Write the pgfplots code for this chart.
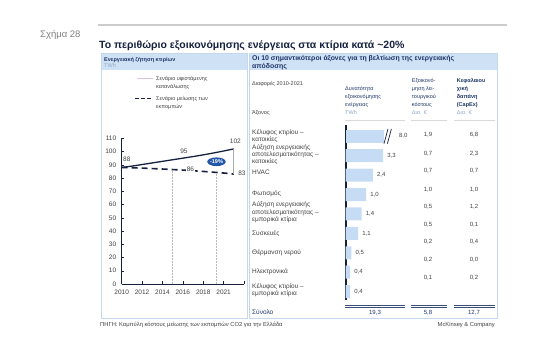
\documentclass[border=0pt]{standalone}
\usepackage{pgfplots}
\pgfplotsset{compat=1.18}
\usepackage{pgfplotstable}
\usepackage{fontspec}
\setmainfont{Liberation Sans}
\usetikzlibrary{shapes.geometric}

\definecolor{navy}{HTML}{1C3567}
\definecolor{ink}{HTML}{16213F}
\definecolor{txt}{HTML}{404040}
\definecolor{hdr}{HTML}{CFE1F5}
\definecolor{brd}{HTML}{C5D7EC}
\definecolor{barc}{HTML}{C6DCF4}
\definecolor{lav}{HTML}{D9C3DC}
\definecolor{pill}{HTML}{2356A8}
\definecolor{unit}{HTML}{8FA6C8}
\definecolor{dbl}{HTML}{3C4F78}

\pgfplotstableread{
year base
2010 88
2011 89
2012 90.2
2013 91.4
2014 92.6
2015 93.8
2016 95
2017 96.2
2018 97.5
2019 98.9
2020 100.4
2021 102
}\baseline

\pgfplotstableread{
year red
2010 88
2012 87.5
2014 86.8
2016 86
2018 85
2020 83.8
2021 83
}\reduction

\pgfplotstableread{
idx val lab
1 8.0 8,0
}\bigbar

\pgfplotstableread{
idx val lab
2 3.3 3,3
3 2.4 2,4
4 1.8 1,0
5 1.4 1,4
6 1.1 1,1
7 0.5 0,5
8 0.4 0,4
9 0.4 0,4
}\bars

\newcommand\sm{\fontsize{5.5}{7}\selectfont}
\newcommand\rl{\fontsize{6.5}{7.3}\selectfont}
\newcommand\vl{\fontsize{6}{7}\selectfont}

\begin{document}
\begin{tikzpicture}[x=1pt,y=1pt]
\path[use as bounding box] (0,0) rectangle (542,353);

% top
\node[anchor=west, text=gray, font=\fontsize{9.5}{11}\selectfont, inner sep=0] at (40,318) {Σχήμα 28};
\draw[gray!40, line width=1.5pt] (98,328) -- (507,328);
\node[anchor=west, text=ink, font=\fontsize{10.5}{12}\selectfont\bfseries, inner sep=0] at (99,307)
  {Το περιθώριο εξοικονόμησης ενέργειας στα κτίρια κατά \textasciitilde20\%};

% panels
\fill[hdr] (101,283) rectangle (247,300);
\fill[hdr] (249,283) rectangle (497,300);
\draw[brd, line width=0.6pt] (101,35) rectangle (247,300);
\draw[brd, line width=0.6pt] (249,35) rectangle (497,300);

\node[anchor=west, align=left, inner sep=0, text=navy, font=\fontsize{5.5}{6.5}\selectfont\bfseries] at (104,290.7)
  {Ενεργειακή ζήτηση κτιρίων\\{\color{unit}\mdseries TWh}};
\node[anchor=west, align=left, inner sep=0, text=navy, font=\fontsize{6.9}{7.7}\selectfont\bfseries] at (252,290.2)
  {Οι 10 σημαντικότεροι άξονες για τη βελτίωση της ενεργειακής\\απόδοσης};

% legend
\draw[lav, line width=1pt] (137,274) -- (153,274);
\draw[ink, line width=1pt, dash pattern=on 3.5pt off 2.5pt] (135,254.7) -- (153,254.7);
\node[anchor=west, align=left, inner sep=0, text=txt, font=\fontsize{5.5}{8}\selectfont] at (156,270)
  {Σενάριο υφιστάμενης\\κατανάλωσης};
\node[anchor=west, align=left, inner sep=0, text=txt, font=\fontsize{5.5}{8}\selectfont] at (156,250.5)
  {Σενάριο μείωσης των\\εκπομπών};

% left line chart
\begin{axis}[at={(121.7pt,69pt)}, anchor=south west, scale only axis,
  width=122.3pt, height=145.7pt,
  xmin=2010, xmax=2022, ymin=0, ymax=110,
  axis x line*=bottom, axis y line*=left,
  axis line style={ink, line width=0.6pt},
  xtick={2010,2012,2014,2016,2018,2020,2022},
  xticklabels={2010,2012,2014,2016,2018,2021,{}},
  ytick={0,10,...,110},
  tick align=inside, major tick length=2.5pt,
  tick style={ink, line width=0.5pt},
  ticklabel style={font=\fontsize{6.5}{7}\selectfont, text=txt},
  xticklabel style={yshift=-2pt},
  yticklabel style={xshift=-2pt},
  /pgf/number format/assume math mode=true,
  /pgf/number format/1000 sep={},
  clip=false]
\draw[gray!55, densely dotted, line width=0.5pt] (axis cs:2015,0) -- (axis cs:2015,86.5);
\draw[gray!55, densely dotted, line width=0.5pt] (axis cs:2019.25,0) -- (axis cs:2019.25,84.3);
\addplot[ink, line width=1.3pt] table[x=year,y=base]{\baseline};
\addplot[ink, line width=1.6pt, dash pattern=on 6pt off 4pt] table[x=year,y=red]{\reduction};
\draw[gray!50!brd, line width=0.9pt] (axis cs:2021,102) -- (axis cs:2021,83);
\node[font=\fontsize{6.5}{7}\selectfont, text=txt] at (axis cs:2010.5,94) {88};
\node[font=\fontsize{6.5}{7}\selectfont, text=txt] at (axis cs:2016.1,100) {95};
\node[font=\fontsize{6.5}{7}\selectfont, text=txt] at (axis cs:2021.15,107.4) {102};
\node[font=\fontsize{6.5}{7}\selectfont, text=txt, fill=white, inner sep=0.6pt] at (axis cs:2016.75,86.6) {86};
\node[font=\fontsize{6.5}{7}\selectfont, text=txt] at (axis cs:2021.8,83.4) {83};
\node[ellipse, fill=pill, text=white, inner sep=0pt, minimum width=18.5pt, minimum height=8.7pt,
  font=\fontsize{5.5}{6}\selectfont\bfseries] at (axis cs:2019.3,92.3) {-19\%};
\end{axis}

% right table headers
\node[anchor=west, inner sep=0, text=txt, font=\sm] at (252,268.7) {Διαφορές 2010-2021};
\node[anchor=west, inner sep=0, text=txt, font=\sm] at (252,239.7) {Άξονος};
\node[anchor=west, align=left, inner sep=0, text=navy, font=\fontsize{5.5}{8}\selectfont] at (345,252.7)
  {Δυνατότητα\\εξοικονόμησης\\ενέργειας\\{\color{unit}TWh}};
\node[anchor=west, align=left, inner sep=0, text=navy, font=\fontsize{5.5}{8}\selectfont] at (411.7,256.8)
  {Εξοικονό-\\μηση λει-\\τουργικού\\κόστους\\{\color{unit}Δισ. €}};
\node[anchor=west, align=left, inner sep=0, text=navy, font=\fontsize{5.5}{8}\selectfont\bfseries] at (456.7,256.8)
  {Κεφαλαιου\\χική\\δαπάνη\\(CapEx)\\{\color{unit}\mdseries Δισ. €}};
\draw[gray!30, line width=1.2pt] (345,232.5) -- (405,232.5);
\draw[gray!30, line width=1.2pt] (411,232.5) -- (447,232.5);
\draw[gray!30, line width=1.2pt] (454,232.5) -- (495,232.5);

% row labels
\begin{scope}[every node/.style={anchor=west, align=left, inner sep=0, text=txt, font=\rl}]
\node at (252,216.7) {Κέλυφος κτιρίου –\\κατοικίες};
\node at (252,198.5) {Αύξηση ενεργειακής\\αποτελεσματικότητας –\\κατοικίες};
\node at (252,180.3) {HVAC};
\node at (252,159.7) {Φωτισμός};
\node at (252,140.5) {Αύξηση ενεργειακής\\αποτελεσματικότητας –\\εμπορικά κτίρια};
\node at (252,119.7) {Συσκευές};
\node at (252,100.7) {Θέρμανση νερού};
\node at (252,81.3) {Ηλεκτρονικά};
\node at (252,63) {Κέλυφος κτιρίου –\\εμπορικά κτίρια};
\end{scope}

% bar chart
\begin{axis}[at={(345.7pt,53pt)}, anchor=south west, scale only axis,
  width=38.6pt, height=175pt,
  xmin=0, xmax=3.4, ymin=0.42, ymax=9.43, y dir=reverse,
  axis x line=none, axis y line*=left,
  axis line style={ink, line width=1.6pt},
  ytick=\empty, xtick=\empty,
  xbar, bar width=13pt, bar shift=0pt, clip=false,
  nodes near coords, point meta=explicit symbolic,
  every node near coord/.append style={font=\vl, text=txt, anchor=west, inner sep=1pt, xshift=3pt}]
\addplot[fill=barc, draw=none, restrict x to domain*=0:3.4,
  every node near coord/.append style={xshift=10.5pt}] table[x=val,y=idx,meta=lab]{\bigbar};
\addplot[fill=barc, draw=none] table[x=val,y=idx,meta=lab]{\bars};
\fill[white] ([xshift=-0.3pt,yshift=-7.4pt]axis cs:3.4,1) -- ++(4pt,14.8pt) -- ++(3.4pt,0) -- ++(-4pt,-14.8pt) -- cycle;
\draw[ink, line width=0.7pt] ([xshift=-0.3pt,yshift=-7.4pt]axis cs:3.4,1) -- ++(4pt,14.8pt);
\draw[ink, line width=0.7pt] ([xshift=3.1pt,yshift=-7.4pt]axis cs:3.4,1) -- ++(4pt,14.8pt);
\end{axis}

% value columns
\begin{scope}[every node/.style={inner sep=0, text=txt, font=\vl}]
\foreach \y/\a/\b in {218/{1,9}/{6,8}, 199.7/{0,7}/{2,3}, 182/{0,7}/{0,7}, 163.7/{1,0}/{1,0}, 146.3/{0,5}/{1,2}, 128.7/{0,5}/{0,1}, 111.3/{0,2}/{0,4}, 93.7/{0,2}/{0,0}, 75.7/{0,1}/{0,2}}{
  \node at (428,\y) {\a};
  \node at (474,\y) {\b};
}
\end{scope}

% totals
\foreach \xa/\xb in {345/405, 411/447, 454/495}{
  \draw[dbl, line width=0.9pt] (\xa,48) -- (\xb,48);
  \draw[dbl, line width=0.9pt] (\xa,45.6) -- (\xb,45.6);
}
\node[anchor=west, inner sep=0, text=navy, font=\rl] at (252,40.7) {Σύνολο};
\node[inner sep=0, text=navy, font=\vl] at (375,40.7) {19,3};
\node[inner sep=0, text=navy, font=\vl] at (428,40.7) {5,8};
\node[inner sep=0, text=navy, font=\vl] at (474,40.7) {12,7};

% footer
\node[anchor=west, inner sep=0, text=txt, font=\fontsize{5.8}{7}\selectfont] at (100,28) {ΠΗΓΗ: Καμπύλη κόστους μείωσης των εκπομπών CO2 για την Ελλάδα};
\node[anchor=east, inner sep=0, text=txt, font=\fontsize{5.8}{7}\selectfont] at (495,28) {McKinsey \& Company};
\end{tikzpicture}
\end{document}
